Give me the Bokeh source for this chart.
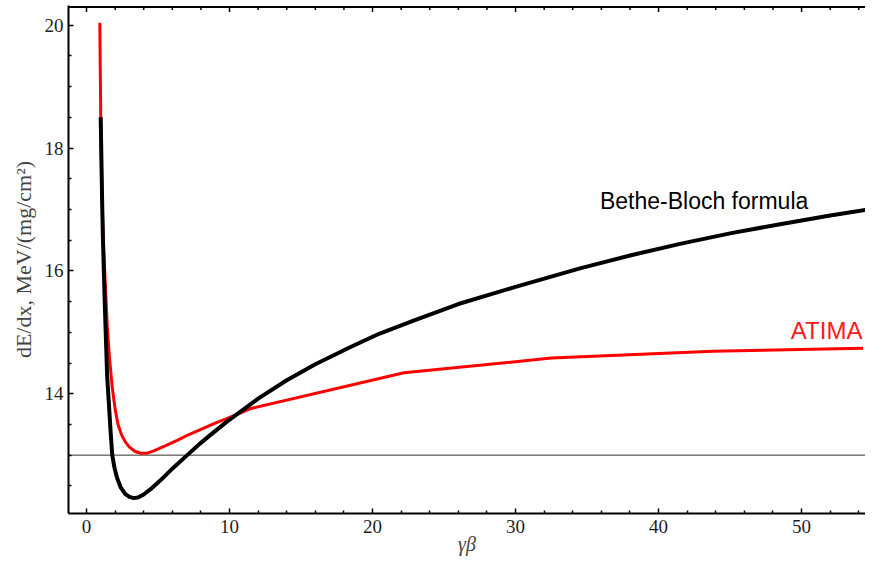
from bokeh.plotting import figure
from bokeh.models import Range1d, FixedTicker, Span, Label
from bokeh.embed import file_html
from bokeh.resources import INLINE

# Bethe-Bloch formula (gamma*beta, dE/dx in MeV/(mg/cm^2))
bb_gb = [0.99, 1.05, 1.1, 1.15, 1.21, 1.3, 1.44, 1.56, 1.68, 1.8, 1.95, 2.15, 2.4, 2.7, 3.0,
         3.3, 3.6, 4.0, 4.5, 5.17, 6.0, 7.04, 8.0, 8.67, 9.84, 10.77, 12.0, 14.0, 16.0,
         18.46, 20.5, 22.87, 26.0, 30.0, 34.5, 38.0, 41.5, 45.0, 48.5, 52.0, 55.0]
bb_de = [18.5, 17.7, 17.04, 16.5, 16.0, 15.3, 14.3, 13.85, 13.4, 13.0, 12.8, 12.62, 12.47, 12.37, 12.32,
         12.3, 12.31, 12.36, 12.45, 12.59, 12.78, 13.0, 13.2, 13.33, 13.55, 13.71, 13.92, 14.22, 14.48,
         14.76, 14.98, 15.19, 15.46, 15.74, 16.04, 16.25, 16.44, 16.61, 16.76, 16.9, 17.01]

# ATIMA
at_gb = [0.93, 0.96, 1.0, 1.05, 1.12, 1.2, 1.33, 1.45, 1.6, 1.8, 2.0, 2.2, 2.45, 2.7, 3.0,
         3.4, 3.8, 4.2, 4.7, 5.5, 6.34, 7.2, 8.0, 9.0, 9.84, 10.7, 11.5, 22.2, 32.5, 43.8, 54.3]
at_de = [20.04, 19.3, 18.4, 17.6, 16.9, 16.35, 15.7, 15.1, 14.6, 14.1, 13.75, 13.5, 13.33, 13.22, 13.13,
         13.06, 13.03, 13.03, 13.07, 13.15, 13.24, 13.34, 13.42, 13.52, 13.6, 13.68, 13.76,
         14.34, 14.58, 14.69, 14.74]

x_major = [0, 10, 20, 30, 40, 50]
x_minor = [2, 4, 6, 8, 12, 14, 16, 18, 22, 24, 26, 28, 32, 34, 36, 38, 42, 44, 46, 48, 52, 54]
y_major = [14, 16, 18, 20]
y_minor = [12.5, 13, 13.5, 14.5, 15, 15.5, 16.5, 17, 17.5, 18.5, 19, 19.5]
ref_level = 13.0

X0, X1 = -1.26, 54.47
Y0, Y1 = 12.05, 20.32
W, H = 865, 562
BL, BR, BT, BB = 68, 0, 5, 49

p = figure(width=W, height=H, output_backend="svg", toolbar_location=None,
           x_range=Range1d(X0, X1), y_range=Range1d(Y0, Y1),
           min_border_left=BL, min_border_right=BR, min_border_top=BT, min_border_bottom=BB)
p.outline_line_color = None
p.xgrid.visible = False
p.ygrid.visible = False
p.background_fill_color = "white"

tick_font = "Liberation Serif"

def style_axis(ax, major, minor):
    ax.ticker = FixedTicker(ticks=major, minor_ticks=minor)
    ax.axis_line_width = 2
    ax.axis_line_color = "black"
    ax.major_tick_in = 5
    ax.major_tick_out = 0
    ax.minor_tick_in = 3
    ax.minor_tick_out = 0
    ax.major_tick_line_width = 1.5
    ax.minor_tick_line_width = 1.5
    ax.major_tick_line_color = "black"
    ax.minor_tick_line_color = "black"
    ax.major_label_text_font = tick_font
    ax.major_label_text_font_size = "19px"
    ax.major_label_text_color = "#1e1e1e"

style_axis(p.xaxis[0], x_major, x_minor)
style_axis(p.yaxis[0], y_major, y_minor)
p.xaxis[0].major_label_standoff = 6
p.yaxis[0].major_label_standoff = 5

p.xaxis[0].axis_label = "γβ"
p.xaxis[0].axis_label_text_font = tick_font
p.xaxis[0].axis_label_text_font_style = "italic"
p.xaxis[0].axis_label_text_font_size = "20px"
p.xaxis[0].axis_label_standoff = -3

p.yaxis[0].axis_label = "dE/dx, MeV/(mg/cm²)"
p.yaxis[0].axis_label_text_font = tick_font
p.yaxis[0].axis_label_text_font_style = "normal"
p.yaxis[0].axis_label_text_font_size = "22px"
p.yaxis[0].axis_label_standoff = 6

# frame top edge (drawn just inside the frame) with inward ticks
per_px = (Y1 - Y0) / (H - BT - BB)
top_y = Y1 - 1.5 * per_px
p.add_layout(Span(location=top_y, dimension="width", line_color="black", line_width=2))
p.segment(x0=x_major, x1=x_major, y0=[top_y] * len(x_major), y1=[top_y - 5 * per_px] * len(x_major),
          line_color="black", line_width=1.5)
p.segment(x0=x_minor, x1=x_minor, y0=[top_y] * len(x_minor), y1=[top_y - 3 * per_px] * len(x_minor),
          line_color="black", line_width=1.5)

p.add_layout(Span(location=ref_level, dimension="width", line_color="#333333",
                  line_width=1, level="underlay"))

p.line(at_gb, at_de, line_color="#ff0000", line_width=3, line_join="round")
p.line(bb_gb, bb_de, line_color="black", line_width=4, line_join="round")

p.add_layout(Label(x=35.9, y=17.14, text="Bethe-Bloch formula", text_baseline="alphabetic",
                   text_align="left", text_font="Liberation Sans", text_font_size="23px",
                   text_color="black"))
p.add_layout(Label(x=49.25, y=15.03, text="ATIMA", text_baseline="alphabetic",
                   text_align="left", text_font="Liberation Sans", text_font_size="24px",
                   text_color="#ff1a1a"))

open("out.html", "w").write(file_html(p, INLINE))
